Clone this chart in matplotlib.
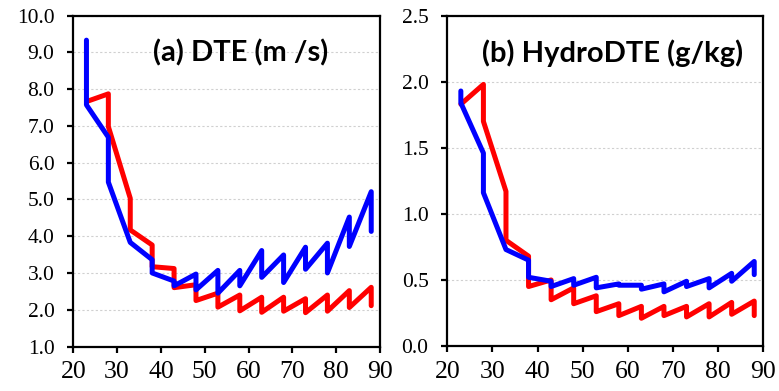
import matplotlib
matplotlib.use("Agg")
import matplotlib.pyplot as plt

# datos (cada x aparece dos veces: salto vertical)
x_vals = [23, 23, 28, 28, 33, 33, 38, 38, 43, 43, 48, 48, 53, 53,
          58, 58, 63, 63, 68, 68, 73, 73, 78, 78, 83, 83, 88, 88]

dte_red = [7.66, 7.66, 7.87, 6.98, 5.03, 4.17, 3.76, 3.17, 3.12, 2.60,
           2.68, 2.25, 2.45, 2.07, 2.40, 1.97, 2.34, 1.93, 2.34, 1.96,
           2.30, 1.92, 2.40, 1.96, 2.52, 2.06, 2.61, 2.11]
dte_blue = [9.33, 7.57, 6.69, 5.47, 3.83, 3.83, 3.36, 3.00, 2.78, 2.65,
            2.97, 2.54, 3.07, 2.45, 3.07, 2.65, 3.61, 2.88, 3.49, 2.74,
            3.70, 3.10, 3.81, 3.00, 4.52, 3.72, 5.21, 4.13]

hydro_red = [1.83, 1.83, 1.98, 1.70, 1.17, 0.80, 0.68, 0.45, 0.50, 0.35,
             0.44, 0.32, 0.38, 0.26, 0.32, 0.23, 0.30, 0.21, 0.30, 0.23,
             0.30, 0.22, 0.32, 0.22, 0.33, 0.24, 0.34, 0.23]
hydro_blue = [1.93, 1.84, 1.46, 1.16, 0.73, 0.73, 0.65, 0.52, 0.49, 0.45,
              0.51, 0.46, 0.52, 0.44, 0.47, 0.46, 0.46, 0.43, 0.47, 0.41,
              0.49, 0.45, 0.51, 0.44, 0.55, 0.49, 0.64, 0.54]

x_ticks = [20, 30, 40, 50, 60, 70, 80, 90]
dte_ticks = [1, 2, 3, 4, 5, 6, 7, 8, 9, 10]
hydro_ticks = [0.0, 0.5, 1.0, 1.5, 2.0, 2.5]

plt.rcParams['font.family'] = 'Liberation Serif'

fig = plt.figure(figsize=(7.79, 3.91), dpi=100)
ax1 = fig.add_axes([0.0941, 0.1138, 0.3937, 0.8465])
ax2 = fig.add_axes([0.5742, 0.1151, 0.4056, 0.8448])

paneles = [
    (ax1, dte_red, dte_blue, dte_ticks, (1, 10), "(a) DTE (m /s)", 0.545),
    (ax2, hydro_red, hydro_blue, hydro_ticks, (0, 2.5), "(b) HydroDTE (g/kg)", 0.524),
]

for ax, rojo, azul, yt, ylim, titulo, tx in paneles:
    ax.plot(x_vals, rojo, color='#FF0000', lw=3.6,
            solid_joinstyle='round', solid_capstyle='round')
    ax.plot(x_vals, azul, color='#0000FF', lw=3.6,
            solid_joinstyle='round', solid_capstyle='round')
    ax.set_xlim(20, 90)
    ax.set_ylim(*ylim)
    ax.set_xticks(x_ticks)
    ax.set_yticks(yt)
    ax.set_yticklabels(["%.1f" % v for v in yt])
    ax.grid(axis='y', color='#d0d0d0', linestyle=(0, (2, 2)), linewidth=0.8)
    ax.set_axisbelow(True)
    for s in ax.spines.values():
        s.set_linewidth(1.6)
    ax.tick_params(axis='y', direction='out', length=4.5, width=1.6,
                   labelsize=15.5, pad=9)
    ax.tick_params(axis='x', direction='out', length=4.5, width=1.6,
                   labelsize=18.5, pad=6)
    ax.text(tx, 0.887, titulo, transform=ax.transAxes, ha='center',
            va='center', fontsize=21, fontweight='bold', family='Lato')

plt.savefig("out.png", dpi=100)
